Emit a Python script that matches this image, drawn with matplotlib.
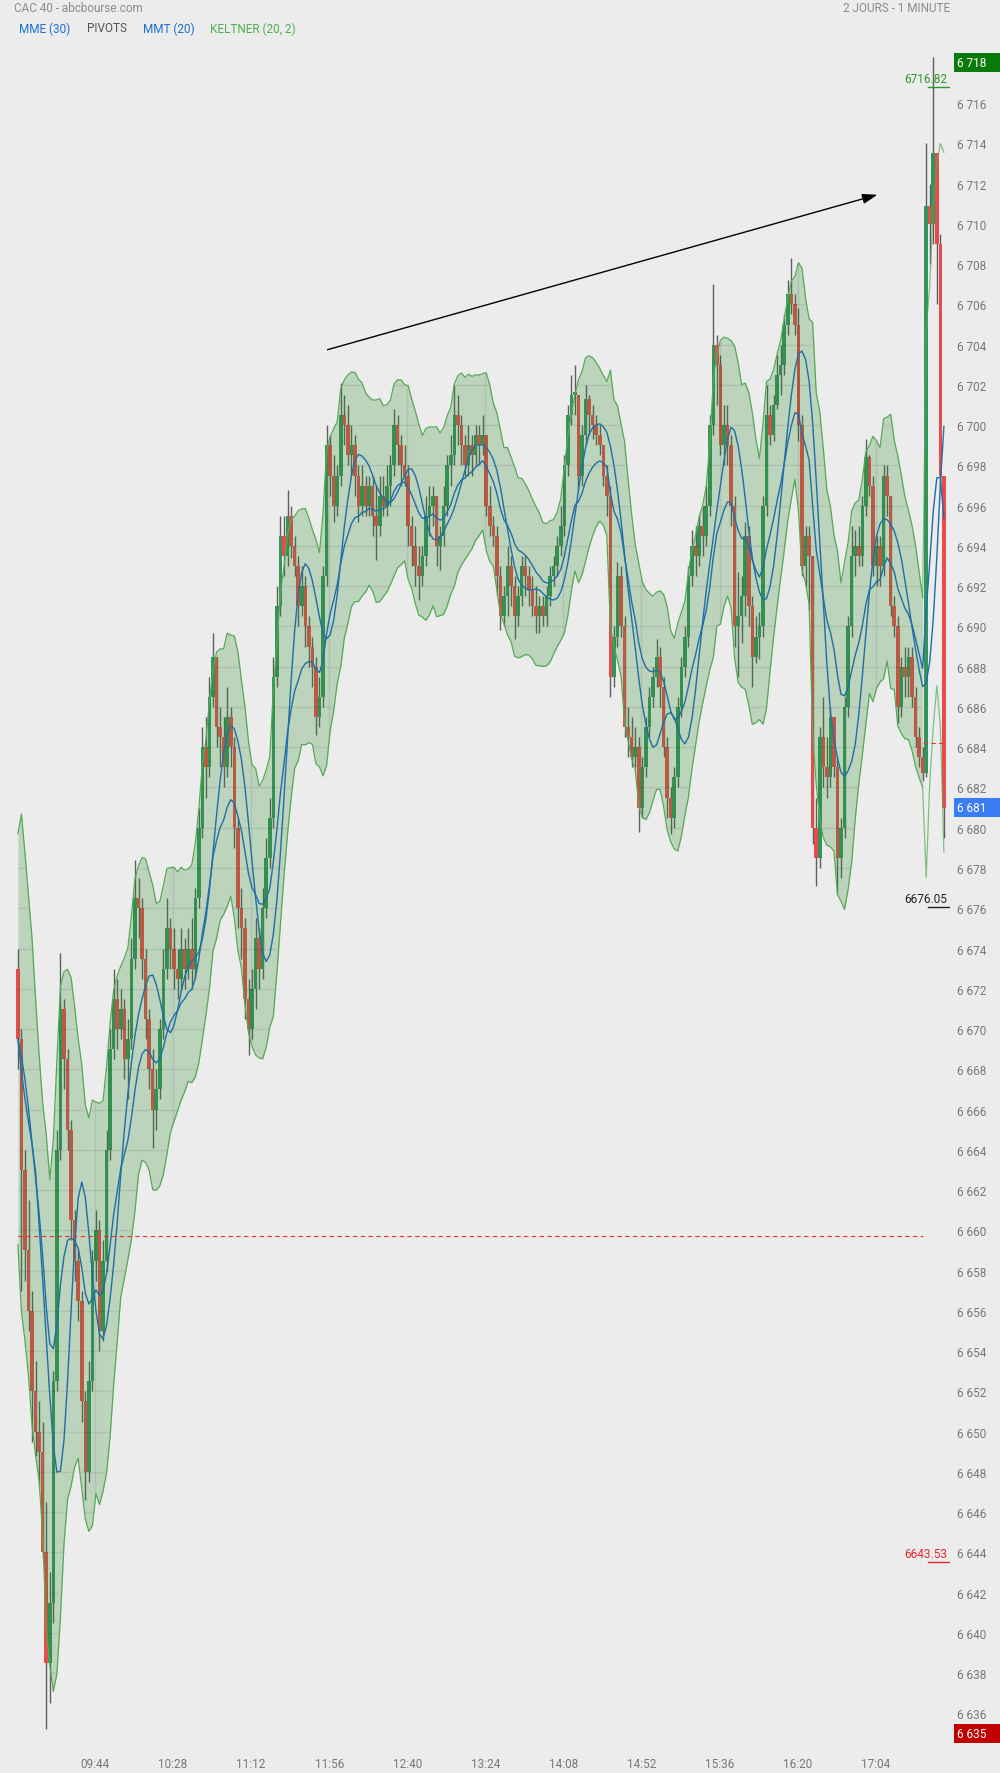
import matplotlib

matplotlib.use("Agg")
import matplotlib.pyplot as plt
import matplotlib.transforms as mtransforms
from matplotlib.patches import Rectangle
from matplotlib.path import Path
import numpy as np
import pandas as pd

plt.rcParams["font.family"] = ["Roboto", "DejaVu Sans"]

BG = "#ececec"

# CAC 40, one day of quotes resampled to 2-minute bars (bar i starts at 09:00 + 2*i min)
BAR_MINUTES = 2
FIRST_OPEN = 6673.0
CLOSES = [
    6669.5, 6663, 6659, 6656, 6652, 6650, 6649, 6644, 6638.5, 6641.5,
    6652.5, 6664, 6671, 6668.5, 6665, 6660.5, 6658.5, 6656.5, 6651.5, 6648,
    6652.5, 6658.5, 6660, 6655, 6658.5, 6664, 6669, 6671.5, 6670, 6671,
    6668.5, 6669.5, 6673.5, 6676.5, 6676, 6673.5, 6670.5, 6668, 6666, 6667,
    6670, 6673, 6675, 6674, 6673, 6672.5, 6674, 6673, 6674, 6673,
    6676.5, 6680, 6684, 6683, 6686.5, 6688.5, 6685, 6684.5, 6683, 6685.5,
    6684, 6680, 6676, 6675, 6671.5, 6670, 6672, 6674.5, 6673, 6676,
    6678.5, 6680.5, 6687.5, 6691, 6694.5, 6693.5, 6695.5, 6694, 6693, 6691,
    6692, 6690, 6689, 6688, 6685.5, 6686.5, 6692.5, 6699, 6697.5, 6696,
    6697.5, 6700.5, 6700, 6698.5, 6699, 6697.5, 6696, 6697, 6696, 6697,
    6695.5, 6695, 6696.5, 6696, 6697, 6698, 6700, 6699, 6698, 6697.5,
    6695, 6694, 6693, 6692.5, 6693.5, 6695.5, 6696, 6696.5, 6694, 6694.5,
    6696, 6698, 6698.5, 6700.5, 6700, 6699, 6698, 6699, 6698.5, 6699.5,
    6699, 6699.5, 6696, 6695, 6694.5, 6692.5, 6690.5, 6691.5, 6693, 6692,
    6690.5, 6691.5, 6693, 6692.5, 6691.8, 6691, 6690.5, 6691, 6690.5, 6691.5,
    6692.5, 6693, 6694, 6695, 6698, 6700.5, 6701.5, 6701.5, 6697.5, 6699.5,
    6701.3, 6700.5, 6700, 6699.5, 6699, 6697.5, 6696.5, 6687.5, 6689.5, 6692.5,
    6690, 6685, 6684.5, 6683.5, 6684, 6681, 6683, 6685, 6686.5, 6687.5,
    6688.5, 6687, 6684, 6681.5, 6680.5, 6682.5, 6686, 6688, 6689.5, 6692.5,
    6694, 6693.5, 6695, 6694.5, 6696, 6700, 6704, 6703, 6699, 6700,
    6699, 6696, 6690, 6690.5, 6691.5, 6694.5, 6691, 6688.5, 6689.5, 6690,
    6696, 6700.5, 6699.5, 6701, 6702.5, 6703, 6705, 6706.5, 6706, 6705,
    6700, 6693, 6694.5, 6693.5, 6680, 6678.5, 6684.5, 6683, 6682.5, 6685.5,
    6683, 6678.5, 6680, 6686, 6690, 6693.5, 6694, 6693.5, 6696, 6698.4,
    6697, 6693, 6694, 6693, 6697.5, 6696.5, 6691, 6690, 6686, 6688,
    6687.5, 6688.5, 6686.5, 6684.5, 6683.5, 6682.7, 6710.9, 6710, 6713.5, 6709,
    6697.5, 6681,
]
HIGHS = [
    6674, 6670, 6664, 6661.5, 6657, 6653.5, 6651.5, 6650.5, 6646.5, 6643,
    6653, 6665, 6673.8, 6671.5, 6669, 6665.5, 6661, 6659, 6657, 6652,
    6653.5, 6659, 6661, 6660.5, 6659.5, 6665, 6670, 6673, 6672.5, 6672,
    6671.5, 6670.5, 6674.5, 6678.4, 6677.5, 6676.5, 6674, 6671, 6669, 6668,
    6670.5, 6674, 6676.5, 6675.5, 6675, 6674, 6675, 6674.5, 6675, 6675.5,
    6677, 6681, 6685, 6685.5, 6687.5, 6689.7, 6688.5, 6686, 6685.5, 6687,
    6686, 6684.5, 6680.5, 6677, 6675.5, 6672.5, 6673, 6675.5, 6675, 6677,
    6679.5, 6681.5, 6688.5, 6692, 6695.5, 6695.5, 6696.8, 6696, 6694.5, 6693.5,
    6693, 6692.5, 6690.5, 6689.5, 6688.5, 6687.5, 6693, 6700, 6699.5, 6698.5,
    6698, 6702.1, 6701.5, 6701, 6700, 6699.5, 6698, 6698, 6697.5, 6697.5,
    6697.5, 6697, 6697.5, 6697.5, 6698, 6698.5, 6700.8, 6700.5, 6699.5, 6699,
    6698, 6695.5, 6695, 6694, 6694, 6696.5, 6697, 6697, 6696.5, 6695,
    6697, 6698.5, 6699.5, 6702, 6701.5, 6700.5, 6699.5, 6700, 6699.5, 6700,
    6700, 6700.5, 6699.5, 6697, 6695.5, 6695, 6693, 6692, 6694, 6693.5,
    6692.5, 6692, 6693.5, 6693.5, 6693, 6692.5, 6692, 6691.5, 6691.5, 6692,
    6693, 6693.5, 6694.5, 6696, 6698.5, 6701, 6702.5, 6703, 6701.5, 6700,
    6702, 6701.5, 6701, 6700.5, 6700, 6699, 6698, 6697, 6690, 6693.2,
    6693, 6690.5, 6686, 6685.5, 6685, 6684.5, 6683.5, 6685.5, 6687, 6688,
    6689.4, 6689, 6687.5, 6684.5, 6682, 6683, 6686.5, 6688.5, 6690, 6693,
    6694.8, 6695, 6695.6, 6696, 6697, 6700.5, 6707, 6704.5, 6703.5, 6701,
    6701, 6699.5, 6696.5, 6692.7, 6692.5, 6695.2, 6695, 6691.5, 6690.5, 6690.7,
    6696.5, 6702, 6701, 6701.5, 6703.5, 6704, 6705.5, 6707.2, 6708.3, 6706.5,
    6705.8, 6700.5, 6695, 6695, 6693.5, 6681.5, 6685, 6686.5, 6684.5, 6686,
    6685.5, 6683.5, 6680.5, 6686.5, 6690.5, 6695, 6694.8, 6695, 6696.5, 6699.3,
    6698.5, 6697.5, 6694.5, 6694.5, 6698, 6698, 6696.5, 6691.5, 6690.5, 6688.5,
    6689, 6689, 6689, 6687, 6685, 6684, 6714, 6712, 6718.3, 6713.5,
    6709.5, 6697.5,
]
LOWS = [
    6668, 6657, 6657.5, 6655, 6649.5, 6648.8, 6647.3, 6643.7, 6635.2, 6636.5,
    6640.5, 6652, 6663.5, 6667, 6664, 6659.5, 6657.5, 6655.5, 6650.5, 6646.6,
    6647.5, 6652, 6657.5, 6654, 6654.5, 6658, 6663.5, 6668.5, 6669, 6669.5,
    6667.5, 6666.5, 6669, 6673, 6674.5, 6672.5, 6669.5, 6667, 6664.1, 6665,
    6666.5, 6669.5, 6672.5, 6673, 6672, 6671.5, 6672, 6672, 6672.5, 6672,
    6672.5, 6676, 6679.5, 6681.5, 6682.5, 6686, 6684, 6683, 6682, 6682.5,
    6683, 6679, 6675, 6673.5, 6670.5, 6668.7, 6669.5, 6671, 6672, 6672.5,
    6675.5, 6678, 6680, 6687, 6690.5, 6692.5, 6693, 6693.4, 6692.5, 6690,
    6690.5, 6689, 6688, 6687, 6684.6, 6685, 6686, 6692, 6696.5, 6695.2,
    6695.5, 6697, 6699, 6698, 6697.5, 6696.5, 6695.2, 6695.5, 6695.5, 6695.5,
    6694.5, 6693.3, 6694.5, 6695.5, 6695.5, 6696, 6697.5, 6698, 6697, 6697,
    6694, 6693, 6692, 6691.3, 6692, 6693, 6694.5, 6695, 6693, 6692.8,
    6694, 6695.5, 6697, 6698, 6699, 6698, 6697.5, 6697.5, 6697.5, 6698,
    6698, 6698.5, 6695.5, 6694.5, 6694, 6691.5, 6689.8, 6690, 6690.5, 6691,
    6689.4, 6690, 6691, 6691.5, 6691, 6690.5, 6689.7, 6689.7, 6690, 6690,
    6691, 6692, 6692.5, 6693.5, 6694.5, 6697.5, 6700, 6700.5, 6696.8, 6697,
    6699, 6699.5, 6699.3, 6699, 6698.5, 6697, 6695.5, 6686.5, 6687, 6689,
    6689.5, 6684.5, 6683.5, 6683, 6683, 6679.8, 6680.5, 6682.5, 6684.5, 6686,
    6687, 6686, 6683.5, 6680.5, 6679.7, 6680, 6682, 6685.5, 6687.5, 6689,
    6692, 6692.5, 6693, 6693.5, 6694, 6695.5, 6699.5, 6701, 6698.5, 6698,
    6698, 6695, 6689, 6687.5, 6689.2, 6690.5, 6690, 6687, 6688.2, 6688.4,
    6689.5, 6695.5, 6699, 6699.2, 6700.8, 6701.5, 6702.5, 6704.5, 6705.5, 6704.5,
    6699.2, 6692.5, 6692, 6690.8, 6679.2, 6677.1, 6678, 6682, 6681.5, 6682,
    6682.5, 6676.7, 6677.5, 6679.5, 6685.5, 6689.5, 6692.5, 6693, 6693, 6695.5,
    6696.5, 6692.5, 6692, 6692, 6692.5, 6695.5, 6690.5, 6689.5, 6685.2, 6685.5,
    6686.5, 6686.5, 6686, 6684, 6683, 6682.3, 6682.5, 6708, 6709, 6706,
    6697, 6679.5,
]

TIME_LABELS = ["09:44", "10:28", "11:12", "11:56", "12:40", "13:24",
               "14:08", "14:52", "15:36", "16:20", "17:04"]
SESSION_START = "09:00"

PIVOT_R1 = 6716.82
PIVOT_P = 6676.05
PIVOT_S1 = 6643.53
PREV_CLOSE = 6659.7
AUCTION_REF = 6684.2
LAST_PRICE = 6681
AXIS_TOP = 6718
AXIS_BOTTOM = 6635
FILL_BARS = 256          # band shading stops before the closing auction
ARROW_FROM = (175, 6703.75)
ARROW_TO = (485, 6711.45)

GREEN_BODY = "#35935c"
RED_BODY = "#e94a4c"
WICK = "#5e5e5e"
BAND_FILL = "#2e8b2e"
BAND_LINE = "#55aa55"
MA_BLUE = "#1f6ea6"


def minutes(label: str) -> int:
    h, m = label.split(":")
    return int(h) * 60 + int(m)


def price_label(v: float) -> str:
    v = int(round(v))
    return f"{v // 1000} {v % 1000:03d}"


def main() -> None:
    close = pd.Series(CLOSES, dtype=float)
    opens = pd.Series([FIRST_OPEN] + CLOSES[:-1], dtype=float)
    high = pd.Series(np.maximum(HIGHS, np.maximum(opens, close)))
    low = pd.Series(np.minimum(LOWS, np.minimum(opens, close)))
    n = len(close)
    t = np.arange(n) * BAR_MINUTES + 0.5

    # indicators, periods expressed in 2-minute bars
    mme = close.ewm(span=15, adjust=False).mean()
    mmt = close.rolling(5, min_periods=1).mean().rolling(6, min_periods=1).mean()
    prev = close.shift(1).fillna(FIRST_OPEN)
    true_range = pd.concat([high - low, (high - prev).abs(), (low - prev).abs()], axis=1).max(axis=1)
    atr = true_range.ewm(span=10, adjust=False).mean()
    mid = close.ewm(span=10, adjust=False).mean()
    upper = mid + 1.7 * atr
    lower = mid - 1.7 * atr

    W, H = 1000, 1774
    fig = plt.figure(figsize=(W / 100, H / 100), dpi=100, facecolor=BG)
    ax = fig.add_axes([0, 26 / H, 950 / W, 1698 / H], facecolor=BG)
    x_lo, x_hi = -17 / 1.774, 933 / 1.774
    ax.set_xlim(x_lo, x_hi)
    ax.set_ylim(6634.33, 6718.69)
    for side in ax.spines.values():
        side.set_visible(False)

    start = minutes(SESSION_START)
    xt = [minutes(s) - start for s in TIME_LABELS]
    yt = np.arange(6636, 6717, 2)
    ax.set_xticks(xt, TIME_LABELS)
    ax.set_yticks(yt, [price_label(v) for v in yt])
    ax.yaxis.tick_right()
    ax.tick_params(axis="both", length=0, labelsize=8.5, labelcolor="#777777")
    ax.tick_params(axis="y", pad=5)
    ax.tick_params(axis="x", pad=7)

    # candles
    up = (close >= opens).to_numpy()
    colors = np.where(up, GREEN_BODY, RED_BODY)
    body = (close - opens).to_numpy()
    body = np.where(np.abs(body) < 0.15, 0.15, body)
    ax.vlines(t, low, high, color=WICK, linewidth=1.0, zorder=1)
    ax.bar(t, body, bottom=opens, width=2.0, color=colors, linewidth=0, zorder=2)

    # keltner band
    band = ax.fill_between(t[:FILL_BARS], lower[:FILL_BARS], upper[:FILL_BARS],
                           color=BAND_FILL, alpha=0.25, linewidth=0, zorder=3)
    ax.plot(t[:FILL_BARS], upper[:FILL_BARS], color=BAND_LINE, linewidth=0.9, zorder=4)
    ax.plot(t[:FILL_BARS], lower[:FILL_BARS], color=BAND_LINE, linewidth=0.9, zorder=4)
    ax.plot(t[FILL_BARS - 1:], upper[FILL_BARS - 1:], color=BAND_LINE, alpha=0.7, linewidth=0.9, zorder=4)
    ax.plot(t[FILL_BARS - 1:], lower[FILL_BARS - 1:], color=BAND_LINE, alpha=0.7, linewidth=0.9, zorder=4)

    # grid only shows through the shaded band
    band_path = Path.make_compound_path(*band.get_paths())
    grid_h = ax.hlines(yt, x_lo, x_hi, color=(0, 0, 0, 0.07), linewidth=1.0, zorder=3.5)
    grid_v = ax.vlines(xt, 6630, 6720, color=(0, 0, 0, 0.07), linewidth=1.0, zorder=3.5)
    for grid in (grid_h, grid_v):
        grid.set_clip_path(band_path, ax.transData)

    # moving averages
    ax.plot(t, mme, color=MA_BLUE, linewidth=1.0, zorder=5)
    ax.plot(t, mmt, color=MA_BLUE, linewidth=1.0, zorder=5)

    # previous close / auction reference
    ax.hlines(PREV_CLOSE, t[0], t[FILL_BARS - 1], color="#e03535", linewidth=0.8,
              linestyles=(0, (4, 3)), zorder=6)
    ax.hlines(AUCTION_REF, t[FILL_BARS - 1], t[-1], color="#e03535", linewidth=0.8,
              linestyles=(0, (4, 3)), zorder=6)

    # pivots
    blend = mtransforms.blended_transform_factory(ax.transAxes, ax.transData)
    for value, color in [(PIVOT_R1, "#2a9a2a"), (PIVOT_P, "#222222"), (PIVOT_S1, "#e8262c")]:
        ax.plot([0.977, 1.0], [value, value], transform=blend, color=color, linewidth=1.0, zorder=7)
        ax.text(0.997, value + 0.1, f"{value:.2f}", transform=blend, ha="right", va="bottom",
                color=color, fontsize=8.5, zorder=7)

    # trend arrow
    ax.annotate("", xy=ARROW_TO, xytext=ARROW_FROM,
                arrowprops=dict(arrowstyle="-|>,head_length=0.9,head_width=0.3",
                                color="black", linewidth=1.0, shrinkA=0, shrinkB=0), zorder=8)

    # price boxes on the right scale
    for value, fc in [(AXIS_TOP, "#0a7a0a"), (AXIS_BOTTOM, "#c00000"), (LAST_PRICE, "#3a7cf2")]:
        ax.add_patch(Rectangle((1.004, value - 0.47), 0.06, 0.94, transform=blend,
                               facecolor=fc, edgecolor="none", clip_on=False, zorder=9))
        ax.text(1.007, value, price_label(value), transform=blend, ha="left", va="center",
                color="white", fontsize=8.5, clip_on=False, zorder=10)

    # header
    fig.text(14 / W, 1 - 8.5 / H, "CAC 40 - abcbourse.com", color="#8c8c8c", fontsize=8.5, va="center")
    fig.text(950 / W, 1 - 8.5 / H, "2 JOURS - 1 MINUTE", color="#8c8c8c", fontsize=8.5,
             va="center", ha="right")
    for x0, label, color in [(19, "MME (30)", "#1a6fd6"), (87, "PIVOTS", "#555555"),
                             (143, "MMT (20)", "#1a6fd6"), (210, "KELTNER (20, 2)", "#4caf50")]:
        fig.text(x0 / W, 1 - 29 / H, label, color=color, fontsize=8.5, va="center")

    fig.savefig("out.png", dpi=100, facecolor=BG)
    plt.close(fig)


if __name__ == "__main__":
    main()
